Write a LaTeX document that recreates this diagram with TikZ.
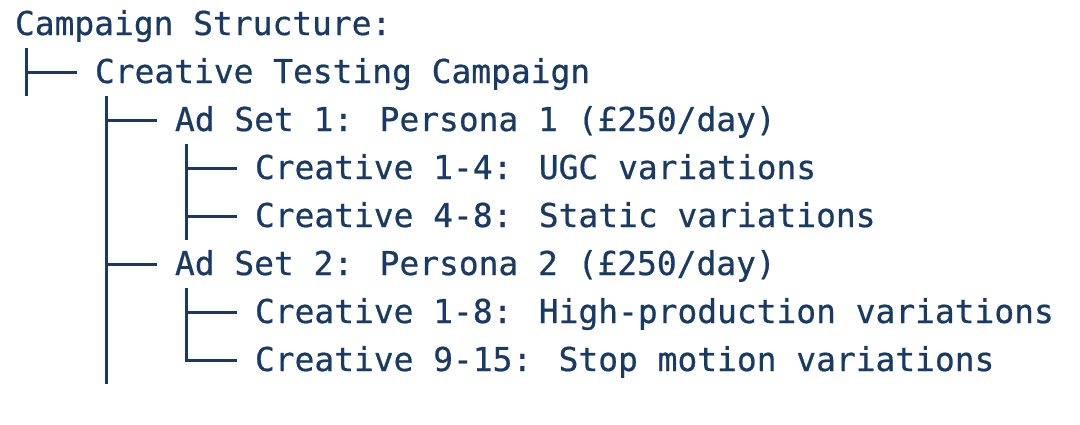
\documentclass[tikz,border=0pt]{standalone}
\usepackage{fontspec}
\newfontfamily\treemono[FakeBold=0.6]{DejaVu Sans Mono}
\usetikzlibrary{calc}
\definecolor{ink}{HTML}{183A64}
\tikzset{
  line/.style={draw=ink, line width=3pt},
  label/.style={anchor=base west, inner sep=0pt, outer sep=0pt, text=ink,
    font=\treemono\fontsize{32.9}{48}\selectfont}
}
\begin{document}
\begin{tikzpicture}[x=1pt,y=-1pt]
\useasboundingbox (0,0) rectangle (1080,424);
\node[label] (n0) at (15,35)  {Campaign Structure:};
\node[label] (n1) at (95,83)  {Creative Testing Campaign};
\node[label] (n2) at (175,131) {Ad Set 1: Persona 1 (£250/day)};
\node[label] (n3) at (255,179) {Creative 1-4: UGC variations};
\node[label] (n4) at (255,227) {Creative 4-8: Static variations};
\node[label] (n5) at (175,275) {Ad Set 2: Persona 2 (£250/day)};
\node[label] (n6) at (255,323) {Creative 1-8: High-production variations};
\node[label] (n7) at (255,371) {Creative 9-15: Stop motion variations};
% vertical trunks
\coordinate (a0) at ($(n1.base west)+(-69,-35)$);
\coordinate (a1) at ($(n1.base west)+(-69,13)$);
\coordinate (b0) at ($(n2.base west)+(-69,-35)$);
\coordinate (b1) at ($(n7.base west)+(-149,13)$);
\coordinate (c0) at ($(n3.base west)+(-69,-35)$);
\coordinate (c1) at ($(n4.base west)+(-69,13)$);
\coordinate (d0) at ($(n6.base west)+(-69,-35)$);
\coordinate (d1) at ($(n7.base west)+(-69,-11)$);
\draw[line] (a0) -- (a1);
\draw[line] (b0) -- (b1);
\draw[line] (c0) -- (c1);
\draw[line] (d0) -- (d1);
% branches
\foreach \n in {n1,n2,n3,n4,n5,n6,n7}{
  \draw[line] ($(\n.base west)+(-70.5,-11)$) -- ($(\n.base west)+(-18,-11)$);
}
\end{tikzpicture}
\end{document}
